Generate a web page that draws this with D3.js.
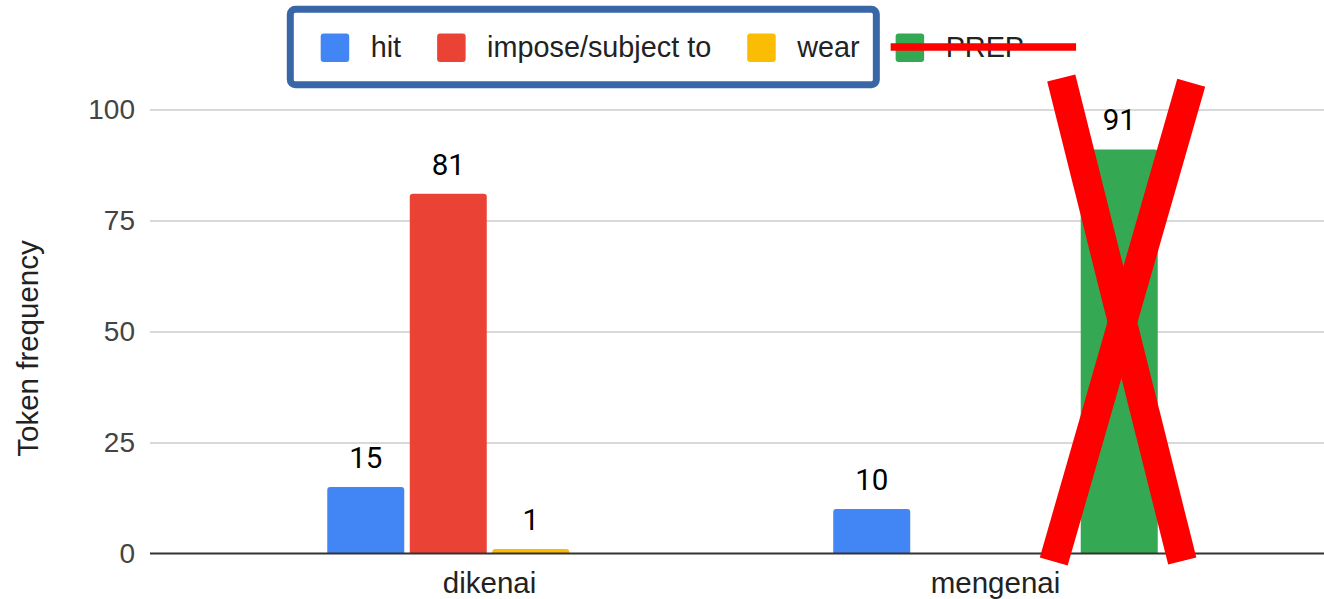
<!DOCTYPE html>
<html>
<head>
<meta charset="utf-8">
<script src="https://cdn.jsdelivr.net/npm/d3@7"></script>
<style>
  body { margin: 0; background: #fff; }
  text { font-family: "Liberation Sans", Arial, sans-serif; }
</style>
</head>
<body>
<svg id="chart"></svg>
<script>
const categories = ["dikenai", "mengenai"];
const seriesNames = ["hit", "impose/subject to", "wear", "PREP"];
const seriesColors = ["#4285f4", "#ea4335", "#fbbc04", "#34a853"];
const hitValues = [15, 10];
const imposeValues = [81, 0];
const wearValues = [1, 0];
const prepValues = [0, 91];
const yTicks = [0, 25, 50, 75, 100];
// the hand drawn X over mengenai/PREP: [offset from bar centre, value]
const crossStrokes = [
    [[-58, 107.1], [63, -1.7]],
    [[72, 106], [-65.5, -1.8]]
];

const seriesValues = [hitValues, imposeValues, wearValues, prepValues];

const width = 1324, height = 599;
const svg = d3.select("#chart").attr("width", width).attr("height", height);

const plotLeft = 150, plotRight = 1324;

const x0 = d3.scaleBand()
    .domain(categories)
    .range([150, 1335])
    .paddingOuter(0.171);

const groupWidth = 324.5;
const x1 = d3.scaleBand()
    .domain(seriesNames)
    .range([0, groupWidth])
    .paddingInner(0.0667);

const y = d3.scaleLinear()
    .domain([0, 100])
    .range([553.5, 109.5]);

function groupStart(cat) {
    return x0(cat) + x0.bandwidth() / 2 - groupWidth / 2;
}

// gridlines
svg.append("g")
    .attr("transform", "translate(" + plotLeft + ",0)")
    .call(d3.axisLeft(y).tickValues(yTicks.slice(1)).tickSize(-(plotRight - plotLeft)).tickFormat(""))
    .call(g => g.select(".domain").remove())
    .call(g => g.selectAll("line").attr("stroke", "#cccccc").attr("stroke-width", 1.6));

// y tick labels
svg.append("g")
    .attr("transform", "translate(" + plotLeft + ",0)")
    .call(d3.axisLeft(y).tickValues(yTicks).tickSize(0).tickPadding(15))
    .call(g => g.select(".domain").remove())
    .call(g => g.selectAll("text")
        .attr("fill", "#444")
        .style("font-size", "28px")
        .style("font-family", "'Liberation Sans', Arial, sans-serif"));

// y title
svg.append("text")
    .attr("transform", "translate(38,348.5) rotate(-90)")
    .attr("text-anchor", "middle")
    .attr("fill", "#222")
    .style("font-size", "29.5px")
    .text("Token frequency");

// bars, rounded on top
function barPath(x, yTop, w, base) {
    const r = Math.min(3, (base - yTop));
    return "M" + x + "," + base +
        "V" + (yTop + r) +
        "Q" + x + "," + yTop + " " + (x + r) + "," + yTop +
        "H" + (x + w - r) +
        "Q" + (x + w) + "," + yTop + " " + (x + w) + "," + (yTop + r) +
        "V" + base + "Z";
}

const bars = [];
categories.forEach((cat, ci) => {
    seriesNames.forEach((s, si) => {
        bars.push({ cat: cat, series: s, color: seriesColors[si], value: seriesValues[si][ci] });
    });
});

svg.append("g").selectAll("path")
    .data(bars.filter(d => d.value > 0))
    .enter().append("path")
    .attr("d", d => barPath(groupStart(d.cat) + x1(d.series), y(d.value), x1.bandwidth(), y(0)))
    .attr("fill", d => d.color);

// baseline
svg.append("line")
    .attr("x1", plotLeft).attr("x2", plotRight)
    .attr("y1", y(0)).attr("y2", y(0))
    .attr("stroke", "#333").attr("stroke-width", 2);

// data labels
svg.append("g").selectAll("text")
    .data(bars.filter(d => d.value > 0))
    .enter().append("text")
    .attr("x", d => groupStart(d.cat) + x1(d.series) + x1.bandwidth() / 2)
    .attr("y", d => y(d.value) - 19)
    .attr("text-anchor", "middle")
    .attr("fill", "#000")
    .style("font-family", "Roboto, 'Liberation Sans', sans-serif")
    .style("font-size", "29.5px")
    .text(d => d.value);

// category labels
svg.append("g").selectAll("text")
    .data(categories)
    .enter().append("text")
    .attr("x", d => x0(d) + x0.bandwidth() / 2)
    .attr("y", 593)
    .attr("text-anchor", "middle")
    .attr("fill", "#222")
    .style("font-size", "29.5px")
    .text(d => d);

// legend
const legend = svg.append("g");
let lx = 320.7;
const legendItems = [];
seriesNames.forEach((s, i) => {
    legend.append("rect")
        .attr("x", lx).attr("y", 33.5)
        .attr("width", 28.5).attr("height", 28.5)
        .attr("rx", 3)
        .attr("fill", seriesColors[i]);
    const t = legend.append("text")
        .attr("x", lx + 50)
        .attr("y", 57)
        .attr("fill", "#222")
        .style("font-size", "28.8px")
        .text(s);
    const tw = t.node().getComputedTextLength();
    legendItems.push({ square: lx, textEnd: lx + 50 + tw });
    lx = lx + 50 + tw + 36;
});

// blue box round the first three legend items
const boxLeft = legendItems[0].square - 30.4;
const boxRight = legendItems[2].textEnd + 16.7;
svg.append("rect")
    .attr("x", boxLeft).attr("y", 9.2)
    .attr("width", boxRight - boxLeft).attr("height", 75.5)
    .attr("rx", 5)
    .attr("fill", "none")
    .attr("stroke", "#3866a6")
    .attr("stroke-width", 7);

// strike through PREP in the legend
svg.append("line")
    .attr("x1", legendItems[3].square - 5)
    .attr("x2", legendItems[3].textEnd + 52)
    .attr("y1", 47).attr("y2", 47)
    .attr("stroke", "#ff0000")
    .attr("stroke-width", 7.5);

// red X over the PREP bar
const prepCentre = groupStart("mengenai") + x1("PREP") + x1.bandwidth() / 2;
svg.append("g").selectAll("line")
    .data(crossStrokes)
    .enter().append("line")
    .attr("x1", d => prepCentre + d[0][0])
    .attr("y1", d => y(d[0][1]))
    .attr("x2", d => prepCentre + d[1][0])
    .attr("y2", d => y(d[1][1]))
    .attr("stroke", "#ff0000")
    .attr("stroke-width", 29);
</script>
</body>
</html>
